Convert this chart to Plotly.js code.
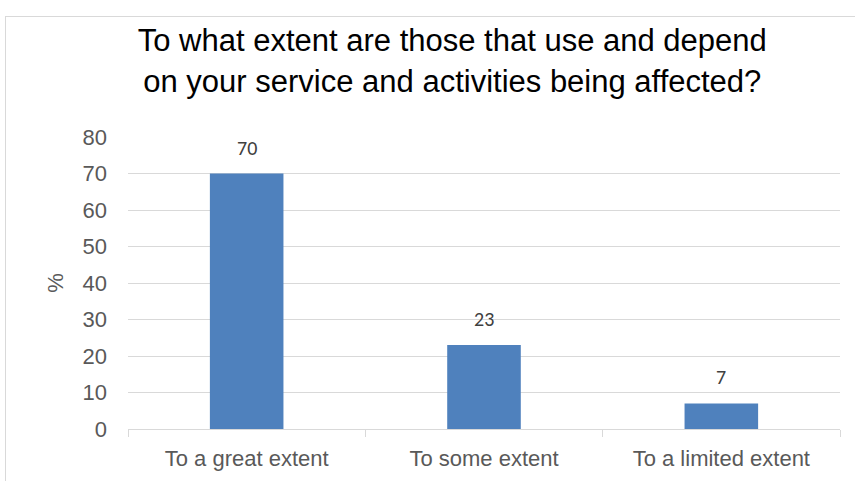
<!DOCTYPE html>
<html>
<head>
<meta charset="utf-8">
<script src="https://cdn.plot.ly/plotly-3.0.1.min.js"></script>
<style>
html,body{margin:0;padding:0;background:#fff;overflow:hidden;}
#chart{position:absolute;left:0;top:0;width:855px;height:481px;}
#frame{position:absolute;left:5px;top:16px;width:870px;height:480px;border:1px solid #d9d9d9;box-sizing:border-box;pointer-events:none;}
</style>
</head>
<body>
<div id="chart"></div>
<div id="frame"></div>
<script>
const chartTitle = "To what extent are those that use and depend<br>on your service and activities being affected?";
const categories = ["To a great extent", "To some extent", "To a limited extent"];
const values = [70, 23, 7];
const yTicks = [0, 10, 20, 30, 40, 50, 60, 70, 80];
const yAxisTitle = "%";

const trace = {
  type: "bar",
  x: categories,
  y: values,
  marker: {color: "#4F81BD"},
  hoverinfo: "x+y",
  showlegend: false
};

const annotations = categories.map((c, i) => ({
  x: c, y: values[i], xref: "x", yref: "y",
  text: String(values[i]), showarrow: false,
  yanchor: "bottom", yshift: 12,
  font: {family: "Carlito, Calibri, 'Noto Sans', sans-serif", size: 20, color: "#404040"}
}));

const layout = {
  width: 855, height: 481,
  margin: {l: 128, r: 15, t: 137, b: 52},
  paper_bgcolor: "#ffffff",
  plot_bgcolor: "#ffffff",
  font: {family: "'Liberation Sans', Arial, sans-serif", color: "#595959", size: 22},
  title: {
    text: chartTitle,
    font: {family: "'Liberation Sans', Arial, sans-serif", size: 31, color: "#000000"},
    xref: "container", x: 0.529, xanchor: "center",
    yref: "container", y: 0.893, yanchor: "middle"
  },
  bargap: 0.69,
  xaxis: {
    type: "category",
    showline: true, linecolor: "#d9d9d9", linewidth: 1,
    ticks: "outside", tickson: "boundaries", ticklen: 7, tickcolor: "#d9d9d9",
    showgrid: false, zeroline: false,
    tickfont: {size: 22, color: "#595959"},
    ticklabelstandoff: 10
  },
  yaxis: {
    range: [0, 80],
    tickvals: yTicks,
    showline: false, ticks: "",
    showgrid: true, gridcolor: "#d9d9d9", gridwidth: 1,
    zeroline: false,
    tickfont: {size: 22, color: "#595959"},
    ticklabelstandoff: 20,
    title: {text: yAxisTitle, font: {size: 22, color: "#595959"}, standoff: 12}
  },
  annotations: annotations
};

Plotly.newPlot("chart", [trace], layout, {displayModeBar: false, staticPlot: true});
</script>
</body>
</html>
